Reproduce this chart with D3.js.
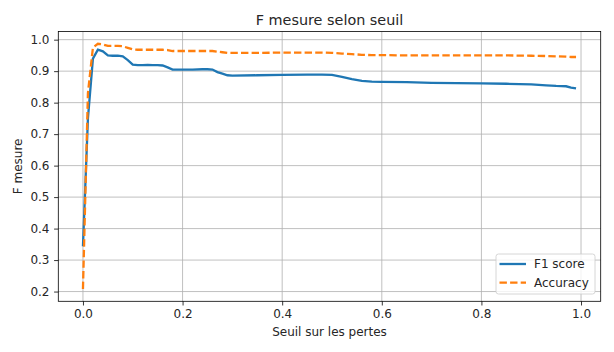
<!DOCTYPE html>
<html lang="fr">
<head>
<meta charset="utf-8">
<title>F mesure selon seuil</title>
<script src="https://cdn.jsdelivr.net/npm/d3@7"></script>
<style>
  body { margin: 0; background: #fff; }
  text { font-family: "DejaVu Sans", sans-serif; fill: #262626; }
</style>
</head>
<body>
<div id="chart"></div>
<script>
// seuils
var seuils = [0, 0.01, 0.02, 0.03, 0.04, 0.05, 0.06, 0.07, 0.08, 0.09,
  0.10, 0.11, 0.12, 0.13, 0.14, 0.15, 0.16, 0.17, 0.18, 0.19,
  0.20, 0.22, 0.24, 0.25, 0.26, 0.27, 0.28, 0.29, 0.30, 0.35,
  0.40, 0.45, 0.48, 0.50, 0.52, 0.54, 0.56, 0.58, 0.60, 0.65,
  0.70, 0.75, 0.80, 0.85, 0.90, 0.93, 0.95, 0.97, 0.98, 0.99];

var f1 = [0.344, 0.75, 0.94, 0.968, 0.963, 0.950, 0.949, 0.949, 0.947, 0.935,
  0.921, 0.919, 0.919, 0.920, 0.919, 0.919, 0.918, 0.912, 0.905, 0.905,
  0.905, 0.905, 0.906, 0.906, 0.905, 0.897, 0.892, 0.887, 0.886, 0.887,
  0.888, 0.889, 0.889, 0.888, 0.882, 0.875, 0.869, 0.867, 0.866, 0.865,
  0.863, 0.862, 0.861, 0.860, 0.858, 0.855, 0.853, 0.852, 0.848, 0.845];

var accuracy = [0.208, 0.83, 0.975, 0.987, 0.985, 0.980, 0.980, 0.980, 0.979, 0.974,
  0.969, 0.968, 0.968, 0.968, 0.968, 0.968, 0.968, 0.967, 0.964, 0.964,
  0.964, 0.964, 0.964, 0.964, 0.964, 0.962, 0.960, 0.958, 0.958, 0.958,
  0.959, 0.959, 0.959, 0.958, 0.956, 0.954, 0.952, 0.951, 0.951, 0.950,
  0.950, 0.950, 0.950, 0.950, 0.949, 0.948, 0.947, 0.946, 0.945, 0.945];

var xTicks = [0, 0.2, 0.4, 0.6, 0.8, 1.0];
var yTicks = [0.2, 0.3, 0.4, 0.5, 0.6, 0.7, 0.8, 0.9, 1.0];

var series = [
  {name: "F1 score", values: f1, color: "#1f77b4", dash: null},
  {name: "Accuracy", values: accuracy, color: "#ff7f0e", dash: "7.4,3.2"}
];

var w = 614, h = 352;
var pLeft = 58.3, pRight = 600.7, pTop = 31.5, pBottom = 301.3;

// marges de 5% comme matplotlib
var xmin = d3.min(seuils), xmax = d3.max(seuils);
var ymin = d3.min(f1.concat(accuracy)), ymax = d3.max(f1.concat(accuracy));
var xm = (xmax - xmin) * 0.05, ym = (ymax - ymin) * 0.05;

var x = d3.scaleLinear().domain([xmin - xm, xmax + xm]).range([pLeft, pRight]);
var y = d3.scaleLinear().domain([ymin - ym, ymax + ym]).range([pBottom, pTop]);

var svg = d3.select("#chart").append("svg")
  .attr("width", w).attr("height", h);

// grille
svg.append("g").selectAll("line").data(xTicks).enter().append("line")
  .attr("x1", function(d) { return x(d); }).attr("x2", function(d) { return x(d); })
  .attr("y1", pTop).attr("y2", pBottom)
  .attr("stroke", "#b0b0b0").attr("stroke-width", 0.8);
svg.append("g").selectAll("line").data(yTicks).enter().append("line")
  .attr("y1", function(d) { return y(d); }).attr("y2", function(d) { return y(d); })
  .attr("x1", pLeft).attr("x2", pRight)
  .attr("stroke", "#b0b0b0").attr("stroke-width", 0.8);

var line = d3.line()
  .x(function(d) { return x(d[0]); })
  .y(function(d) { return y(d[1]); });

var plot = svg.append("g");
series.forEach(function(s) {
  plot.append("path")
    .datum(d3.zip(seuils, s.values))
    .attr("d", line)
    .attr("fill", "none")
    .attr("stroke", s.color)
    .attr("stroke-width", 2.3)
    .attr("stroke-dasharray", s.dash);
});

// axes
svg.append("g")
  .attr("transform", "translate(0," + pBottom + ")")
  .call(d3.axisBottom(x).tickValues(xTicks).tickFormat(d3.format(".1f")).tickSizeInner(4.2).tickSizeOuter(0).tickPadding(4.2));
svg.append("g")
  .attr("transform", "translate(" + pLeft + ",0)")
  .call(d3.axisLeft(y).tickValues(yTicks).tickFormat(d3.format(".1f")).tickSizeInner(4.2).tickSizeOuter(0).tickPadding(4.6));
svg.selectAll(".domain").remove();
svg.selectAll(".tick line").attr("stroke", "#000").attr("stroke-width", 0.8);
svg.selectAll(".tick text").style("font-size", "12px").style("font-family", "DejaVu Sans").attr("fill", "#262626");

// cadre
svg.append("rect")
  .attr("x", pLeft).attr("y", pTop)
  .attr("width", pRight - pLeft).attr("height", pBottom - pTop)
  .attr("fill", "none").attr("stroke", "#000").attr("stroke-width", 0.8);

// textes
svg.append("text")
  .attr("x", (pLeft + pRight) / 2).attr("y", 24.5)
  .attr("text-anchor", "middle").style("font-size", "14.4px")
  .text("F mesure selon seuil");
svg.append("text")
  .attr("x", (pLeft + pRight) / 2).attr("y", 336)
  .attr("text-anchor", "middle").style("font-size", "12px")
  .text("Seuil sur les pertes");
svg.append("text")
  .attr("transform", "translate(22," + (pTop + pBottom) / 2 + ") rotate(-90)")
  .attr("text-anchor", "middle").style("font-size", "12px")
  .text("F mesure");

// légende
var legend = svg.append("g");
legend.append("rect")
  .attr("x", 496).attr("y", 254).attr("width", 99).attr("height", 40)
  .attr("rx", 2.5).attr("fill", "#fff").attr("fill-opacity", 0.8)
  .attr("stroke", "#cccccc").attr("stroke-width", 0.8);
var items = legend.selectAll("g.item").data(series).enter().append("g")
  .attr("transform", function(d, i) { return "translate(0," + (264 + i * 18.7) + ")"; });
items.append("line")
  .attr("x1", 499.5).attr("x2", 526).attr("y1", 0).attr("y2", 0)
  .attr("stroke", function(d) { return d.color; })
  .attr("stroke-width", 2.3)
  .attr("stroke-dasharray", function(d) { return d.dash; });
items.append("text")
  .attr("x", 534).attr("y", 4.3)
  .style("font-size", "12px")
  .text(function(d) { return d.name; });
</script>
</body>
</html>
